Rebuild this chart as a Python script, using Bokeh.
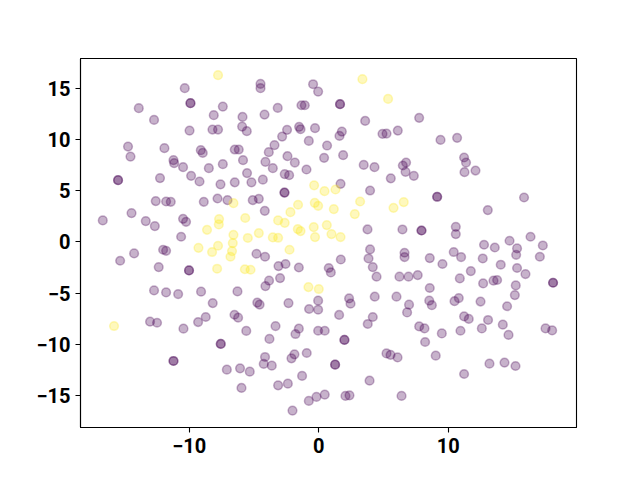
from bokeh.plotting import figure
from bokeh.models import FixedTicker, Range1d
from bokeh.embed import file_html
from bokeh.resources import INLINE

# ---- data ----
# class 0 (purple) -- upper-left region
p_nw_x = [-10.35, -9.91, -9.91, -13.90, -7.41, -12.72, -8.11, -5.89, -9.98, -8.21,
          -7.78, -5.92, -5.56, -14.73, -14.54, -11.92, -9.11, -8.96, -6.49, -6.18,
          -11.22, -11.17, -10.48, -8.49, -7.41, -5.85, -5.54, -15.50, -15.50, -12.26,
          -9.86, -9.21, -7.59, -6.49]
p_nw_y = [15.00, 13.54, 13.54, 13.05, 13.21, 11.91, 12.37, 12.20, 10.87, 10.97,
          10.97, 11.26, 10.81, 9.31, 8.33, 9.15, 8.96, 8.69, 9.02, 9.02,
          7.98, 7.69, 7.30, 7.20, 7.59, 7.98, 6.72, 6.03, 6.03, 6.23,
          6.45, 5.90, 5.62, 5.82]

# class 0 -- upper-middle region
p_n_x = [-4.50, -4.50, -0.44, -0.05, -3.17, -1.34, -1.08, 1.64, 1.64, -4.19,
         -1.52, -1.41, -0.29, 1.78, 1.60, 3.58, 4.92, 5.23, 6.10, -2.45,
         -2.83, -0.77, -3.42, -3.86, 0.64, 1.88, 0.41, -2.42, -1.85, -4.12,
         -3.55, -0.95, -2.63, -2.29, -5.20, -4.32, 1.68, 3.47, 4.30, 6.49,
         6.74, 6.70, 5.56, 7.34]
p_n_y = [15.42, 15.00, 15.39, 14.67, 13.08, 13.34, 13.34, 13.44, 13.44, 12.43,
         11.23, 11.00, 11.10, 10.77, 10.35, 11.81, 10.55, 10.58, 10.87, 10.94,
         10.28, 9.86, 9.45, 8.76, 9.41, 8.47, 8.21, 8.37, 7.75, 7.82,
         7.20, 7.07, 6.62, 6.52, 5.82, 6.08, 5.67, 7.52, 7.30, 7.46,
         7.75, 6.84, 6.21, 6.45]

# class 0 -- upper-right region
p_ne_x = [7.75, 9.40, 10.68, 11.22, 11.37, 11.25, 12.10]
p_ne_y = [12.11, 9.96, 10.16, 8.24, 7.75, 6.81, 6.97]

# class 0 -- middle-left region
p_w_x = [-12.59, -11.79, -11.43, -8.88, -7.82, -7.05, -14.46, -16.68, -13.36, -12.66,
         -10.48, -10.25, -10.63, -12.02, -11.79, -14.26, -15.34, -12.36, -10.02, -10.02,
         -12.72, -11.79, -10.86, -9.09, -6.28, -8.19]
p_w_y = [3.99, 3.95, 3.92, 3.92, 4.24, 4.08, 2.82, 2.10, 2.04, 1.55,
         2.26, 1.97, 0.51, -0.76, -0.86, -1.12, -1.83, -2.45, -2.78, -2.78,
         -4.73, -4.92, -5.08, -4.85, -4.82, -5.96]

# class 0 -- centre region
p_c_x = [3.96, -2.65, -2.65, -5.10, -4.63, -4.17, 3.76, 6.46, -4.81, -4.15,
         3.96, 3.84, 6.62, 6.62, 1.70, -3.11, -2.57, -1.54, 0.77, 0.93,
         4.17, 4.46, 6.23, 6.93, -3.84, -4.12, -2.99, -4.75, -4.57, -2.34,
         -0.05, 2.34, 2.45, 4.32, 6.00, 6.97]
p_c_y = [5.02, 4.82, 4.82, 4.08, 4.21, 3.04, 1.22, 1.22, -1.15, -1.44,
         -0.73, -1.61, -1.05, -1.47, -1.71, -2.35, -2.15, -2.49, -2.54, -2.97,
         -2.45, -3.39, -3.39, -3.39, -3.78, -4.30, -3.52, -5.91, -6.11, -5.96,
         -5.73, -5.51, -6.02, -5.34, -5.34, -6.12]

# class 0 -- lower-middle region
p_s_x = [-0.75, -0.05, 1.57, 3.78, 4.17, 6.82, -5.60, -3.34, -3.81, -1.54,
         -1.80, -0.05, 0.46, 1.98, 1.98, -4.15, -4.25, -3.63, -5.33, -1.88,
         -2.11, -0.93, 1.26, 1.26, -1.29, -3.14, -2.39, -0.77, -0.18, 0.46,
         -2.03, 2.06, 2.37, 3.92, 5.23, 5.54, 6.08, 6.39]
p_s_y = [-6.54, -6.61, -7.12, -8.00, -7.32, -6.87, -8.68, -8.20, -9.46, -8.46,
         -8.98, -8.66, -8.66, -9.56, -9.56, -11.22, -11.90, -12.07, -12.65, -10.96,
         -11.35, -10.83, -11.97, -11.97, -13.07, -13.99, -13.82, -15.51, -15.12, -14.89,
         -16.45, -15.02, -14.96, -13.53, -10.87, -11.02, -11.26, -15.02]

# class 0 -- lower-left region
p_sw_x = [-13.03, -12.49, -10.45, -9.32, -8.73, -6.51, -6.23, -7.57, -7.57, -11.22,
          -11.22, -7.10, -6.08, -5.97]
p_sw_y = [-7.78, -7.88, -8.46, -7.81, -7.32, -7.10, -7.39, -9.95, -9.95, -11.61,
          -11.61, -12.46, -12.33, -14.24]

# class 0 -- middle-right region
p_e_x = [9.14, 9.14, 15.85, 13.05, 7.93, 7.93, 10.58, 10.58, 12.76, 13.59,
         14.73, 16.35, 17.30, 15.31, 15.24, 17.07, 10.42, 10.99, 8.57, 9.55,
         12.66, 14.05, 11.74, 15.31, 15.96, 7.64, 10.89, 12.69, 13.49, 13.77,
         15.21, 18.09, 18.09, 8.57, 15.14, 8.53, 8.73, 10.48, 10.81, 12.49,
         14.54]
p_e_y = [4.41, 4.41, 4.34, 3.11, 1.12, 1.12, 1.48, 0.77, -0.27, -0.54,
         0.12, 0.51, -0.34, -0.63, -1.25, -1.44, -0.98, -1.47, -1.57, -2.15,
         -1.61, -2.22, -2.84, -2.54, -3.13, -3.23, -3.56, -4.04, -3.78, -3.71,
         -4.24, -3.98, -3.98, -4.49, -5.18, -5.73, -6.17, -5.78, -5.47, -5.81,
         -6.27]

# class 0 -- lower-right region
p_se_x = [11.22, 11.58, 13.07, 7.75, 8.16, 9.50, 10.94, 12.59, 14.21, 14.65,
          17.51, 18.02, 8.21, 9.03, 13.18, 14.34, 15.19, 11.22]
p_se_y = [-7.26, -7.51, -7.61, -8.24, -8.43, -8.92, -8.66, -8.43, -8.07, -9.07,
          -8.43, -8.63, -9.76, -11.09, -11.87, -11.77, -12.10, -12.88]

# class 1 (yellow)
y_x = [-7.78, 3.37, 5.35, -0.36, -6.59, -7.70, -7.72, -8.63, -5.68, -6.59,
       -6.64, -5.48, -9.29, -7.78, -8.24, -6.70, -6.82, -7.85, -5.71, 0.44,
       1.29, -1.60, -2.19, -0.31, -0.05, 1.16, 3.19, 2.78, 5.77, 6.56,
       -3.14, -2.63, -1.62, -1.41, -0.39, 0.62, -4.63, -3.55, -3.14, -0.29,
       0.98, 1.68, -2.26, -5.27, -0.80, 0.00, -15.81]
y_y = [16.27, 15.88, 13.96, 5.53, 3.79, 2.23, 1.71, 1.19, 2.34, 0.70,
       -0.11, 0.39, -0.57, -0.37, -0.98, -0.89, -1.44, -2.61, -2.66, 4.96,
       5.12, 3.63, 2.91, 3.82, 3.53, 3.21, 3.95, 2.72, 3.33, 3.89,
       2.10, 1.87, 1.26, 1.06, 1.45, 1.65, 0.87, 0.44, 0.41, 0.48,
       0.77, 0.48, -0.76, -2.71, -4.40, -4.59, -8.20]

x_ticks = [-10, 0, 10]
x_tick_labels = ["\u221210", "0", "10"]
y_ticks = [-15, -10, -5, 0, 5, 10, 15]
y_tick_labels = ["\u221215", "\u221210", "\u22125", "0", "5", "10", "15"]

purple_x = p_nw_x + p_n_x + p_ne_x + p_w_x + p_c_x + p_s_x + p_sw_x + p_e_x + p_se_x
purple_y = p_nw_y + p_n_y + p_ne_y + p_w_y + p_c_y + p_s_y + p_sw_y + p_e_y + p_se_y

p = figure(width=624, height=464, output_backend="svg", toolbar_location=None,
           x_range=Range1d(-18.4, 19.9), y_range=Range1d(-18.1, 17.9),
           min_border_left=80, min_border_right=48, min_border_top=58, min_border_bottom=37)

p.background_fill_color = "white"
p.border_fill_color = "white"
p.outline_line_color = "black"
p.outline_line_width = 1.1
p.xgrid.visible = False
p.ygrid.visible = False

p.scatter(purple_x, purple_y, size=8.7, fill_color="#440154", line_color="#440154",
          fill_alpha=0.3, line_alpha=0.3, line_width=1.5)
p.scatter(y_x, y_y, size=8.7, fill_color="#fde725", line_color="#fde725",
          fill_alpha=0.3, line_alpha=0.3, line_width=1.5)

p.xaxis.ticker = FixedTicker(ticks=x_ticks)
p.yaxis.ticker = FixedTicker(ticks=y_ticks)
p.xaxis.major_label_overrides = dict(zip(x_ticks, x_tick_labels))
p.yaxis.major_label_overrides = dict(zip(y_ticks, y_tick_labels))
for ax in (p.xaxis, p.yaxis):
    ax.minor_tick_line_color = None
    ax.major_tick_out = 5
    ax.major_tick_in = 0
    ax.major_tick_line_width = 1.1
    ax.axis_line_width = 1.1
    ax.major_label_standoff = 5
    ax.major_label_text_font = "Roboto"
    ax.major_label_text_font_style = "bold"
    ax.major_label_text_font_size = "20px"
    ax.major_label_text_color = "black"

open("out.html", "w").write(file_html(p, INLINE))
